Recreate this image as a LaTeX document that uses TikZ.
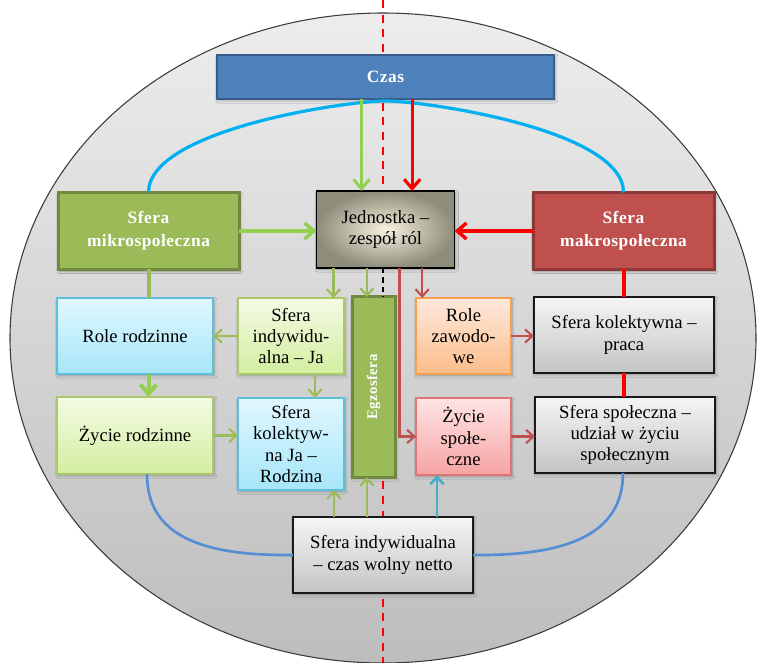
\documentclass[tikz,border=0pt]{standalone}
\usepackage{fontspec}
\usepackage{graphicx}
\setmainfont{Liberation Serif}
\newfontfamily\headfont{Liberation Serif}[LetterSpace=3]
\usetikzlibrary{arrows.meta,shadows.blur}

\definecolor{ellTop}{HTML}{EDEDED}
\definecolor{ellBot}{HTML}{BDBDBD}
\definecolor{ellLine}{HTML}{3A3A3A}
\definecolor{cyanArc}{HTML}{00B0F0}
\definecolor{blueArc}{HTML}{558ED5}
\definecolor{czasFill}{HTML}{4F81BD}
\definecolor{czasLine}{HTML}{385D8A}
\definecolor{oliveFill}{HTML}{9BBB59}
\definecolor{oliveLine}{HTML}{71893F}
\definecolor{redFill}{HTML}{C0504D}
\definecolor{redLine}{HTML}{8C3836}
\definecolor{limeArrow}{HTML}{92D050}
\definecolor{brickArrow}{HTML}{C0504D}
\definecolor{tealArrow}{HTML}{4BACC6}
\definecolor{pureRed}{HTML}{FF0000}
\definecolor{lbTop}{HTML}{E1F7FE}
\definecolor{lbBot}{HTML}{A6E6F9}
\definecolor{lbLine}{HTML}{5EBFDC}
\definecolor{lgTop}{HTML}{F4FBE4}
\definecolor{lgBot}{HTML}{D3EEA0}
\definecolor{lgLine}{HTML}{A9C96A}
\definecolor{orTop}{HTML}{FEE9DC}
\definecolor{orBot}{HTML}{FBBD8B}
\definecolor{orLine}{HTML}{F7A052}
\definecolor{pkTop}{HTML}{FEE4E4}
\definecolor{pkBot}{HTML}{F7A3A3}
\definecolor{pkLine}{HTML}{E07575}
\definecolor{grTop}{HTML}{F5F5F5}
\definecolor{grBot}{HTML}{C4C4C4}
\definecolor{jedInner}{HTML}{F7F2DE}
\definecolor{jedOuter}{HTML}{8E8C7B}

\begin{document}
\begin{tikzpicture}[x=0.75pt,y=-0.75pt,
  sz/.style 2 args={minimum width=#1, minimum height=#2},
  box/.style={align=center, inner sep=0pt, outer sep=0pt,
    font=\fontsize{14}{16}\selectfont,
    blur shadow={shadow xshift=1pt, shadow yshift=-1.2pt, shadow blur steps=4, shadow opacity=30}},
  head/.style={box, text=white, font=\headfont\bfseries\fontsize{13}{17}\selectfont},
  czasbox/.style={head, fill=czasFill, draw=czasLine, line width=1.5pt},
  mikrobox/.style={head, fill=oliveFill, draw=oliveLine, line width=2.25pt},
  makrobox/.style={head, fill=redFill, draw=redLine, line width=2.25pt},
  egzobox/.style={head, fill=oliveFill, draw=oliveLine, line width=2.25pt,
    font=\headfont\bfseries\fontsize{11}{13}\selectfont},
  jedbox/.style={box, draw=black, line width=0.8pt, inner color=jedInner, outer color=jedOuter},
  bluebox/.style={box, draw=lbLine, line width=1pt, top color=lbTop, bottom color=lbBot},
  greenbox/.style={box, draw=lgLine, line width=1pt, top color=lgTop, bottom color=lgBot},
  orangebox/.style={box, draw=orLine, line width=1pt, top color=orTop, bottom color=orBot},
  pinkbox/.style={box, draw=pkLine, line width=1pt, top color=pkTop, bottom color=pkBot},
  greybox/.style={box, draw=black!90, line width=0.9pt, top color=grTop, bottom color=grBot},
  bigtip/.style={-{Straight Barb[length=7pt,width=12pt]}},
  smalltip/.style={-{Straight Barb[length=5.5pt,width=10pt]}},
  thinlink/.style={line width=1.6pt, smalltip},
  axisline/.style={pureRed, line width=1.5pt, dash pattern=on 6pt off 5pt},
]
\useasboundingbox (0,0) rectangle (761,663);

% background ellipse
\shade[top color=ellTop, bottom color=ellBot] (383,338) ellipse [x radius=373, y radius=325];
\draw[ellLine, line width=0.8pt] (383,338) ellipse [x radius=373, y radius=325];

% central dividing axis
\coordinate (axTop) at (383,0);
\coordinate (axBot) at (383,663);
\draw[axisline] (axTop) -- (383,250);
\draw[axisline] (383,320) -- (axBot);

% boxes
\node[czasbox, sz={252.75pt}{33pt}] (czas) at (385.5,77) {Czas};
\node[mikrobox, sz={135.75pt}{57.75pt}] (mikro) at (148.5,231) {Sfera\\mikrospołeczna};
\node[jedbox, sz={103.5pt}{57.75pt}] (jed) at (385.5,229.5) {Jednostka –\\zespół ról};
\node[makrobox, sz={135.75pt}{57.75pt}] (makro) at (623.5,231) {Sfera\\makrospołeczna};

\node[bluebox, sz={117pt}{57pt}] (rr) at (135,336) {Role rodzinne};
\node[greenbox, sz={79.5pt}{57pt}] (si) at (291,336) {Sfera\\indywidu-\\alna – Ja};
\node[egzobox, sz={32.25pt}{135pt}] (egz) at (373.5,387) {\rotatebox{90}{Egzosfera}};
\node[orangebox, sz={71.25pt}{57pt}] (rz) at (463.5,336) {Role\\zawodo-\\we};
\node[greybox, sz={135pt}{57pt}] (skp) at (624,335) {Sfera kolektywna –\\praca};

\node[greenbox, sz={117pt}{57.75pt}] (zr) at (135,435.5) {Życie rodzinne};
\node[bluebox, sz={79.5pt}{69pt}] (skj) at (291,444) {Sfera\\kolektyw-\\na Ja –\\Rodzina};
\node[pinkbox, sz={71.25pt}{57.75pt}] (zs) at (463.5,436.5) {Życie\\społe-\\czne};
\node[greybox, sz={135pt}{57pt}] (ss) at (625,435) {Sfera społeczna –\\udział w życiu\\społecznym};

\node[greybox, sz={135pt}{57pt}] (bot) at (383,555) {Sfera indywidualna\\– czas wolny netto};

% short black dashes between the unit and the exosphere
\draw[black, line width=1.5pt, dash pattern=on 4pt off 3pt] (jed.south -| axTop) -- (egz.north -| axTop);

% arcs
\draw[cyanArc, line width=2.4pt] (mikro.north) .. controls (148.5,130) and (345,101) .. (385.5,101)
  .. controls (426,101) and (623.5,130) .. (makro.north);
\draw[blueArc, line width=2pt] ([xshift=9pt]zr.south) .. controls (147,535) and (200,556) .. (bot.west);
\draw[blueArc, line width=2pt] ([xshift=-1.5pt]ss.south) .. controls (623,535) and (566,556) .. (bot.east);

% time to the unit
\coordinate (g1) at ([xshift=-18pt]jed.north);
\coordinate (r1) at ([xshift=20pt]jed.north);
\draw[limeArrow, line width=2.2pt, bigtip] (czas.south -| g1) -- (g1);
\draw[pureRed, line width=2.4pt, bigtip] (czas.south -| r1) -- (r1);

% spheres to the unit
\draw[limeArrow, line width=2.6pt, bigtip] (mikro.east) -- (mikro.east -| jed.west);
\draw[pureRed, line width=2.6pt, bigtip] (makro.west) -- (makro.west -| jed.east);

% left column
\draw[oliveFill, line width=3pt] (mikro.south) -- (mikro.south |- rr.north);
\coordinate (rrb) at (mikro.south |- rr.south);
\draw[limeArrow, line width=3pt, bigtip] (rrb) -- (rrb |- zr.north);

% right column
\draw[pureRed, line width=3pt] (makro.south) -- (makro.south |- skp.north);
\draw[pureRed, line width=3pt] (skp.south) -- (skp.south |- ss.north);

% from the unit downwards
\coordinate (j1) at ([xshift=-39pt]jed.south);
\coordinate (j2) at ([xshift=-14pt]jed.south);
\coordinate (j3) at ([xshift=10.5pt]jed.south);
\coordinate (j4) at ([xshift=27.5pt]jed.south);
\draw[oliveFill, thinlink] (j1) -- (j1 |- si.north);
\draw[oliveFill, thinlink] (j2) -- (j2 |- egz.north);
\draw[brickArrow, thinlink] (j3) |- (zs.west);
\draw[brickArrow, thinlink] (j4) -- (j4 |- rz.north);

% inner links
\draw[oliveFill, thinlink] (si.west) -- (si.west -| rr.east);
\coordinate (s1) at ([xshift=18pt]si.south);
\draw[oliveFill, thinlink] (s1) -- (s1 |- skj.north);
\draw[oliveFill, thinlink] (zr.east) -- (zr.east -| skj.west);
\draw[brickArrow, thinlink] (rz.east) -- (rz.east -| skp.west);
\draw[brickArrow, thinlink] (zs.east) -- (zs.east -| ss.west);

% free time upwards
\coordinate (b1) at ([xshift=-36.75pt]bot.north);
\coordinate (b2) at ([xshift=-12pt]bot.north);
\coordinate (b3) at ([xshift=40.5pt]bot.north);
\draw[oliveFill, thinlink] (b1) -- (b1 |- skj.south);
\draw[oliveFill, thinlink] (b2) -- (b2 |- egz.south);
\draw[tealArrow, line width=2pt, smalltip] (b3) -- (b3 |- zs.south);
\end{tikzpicture}
\end{document}
